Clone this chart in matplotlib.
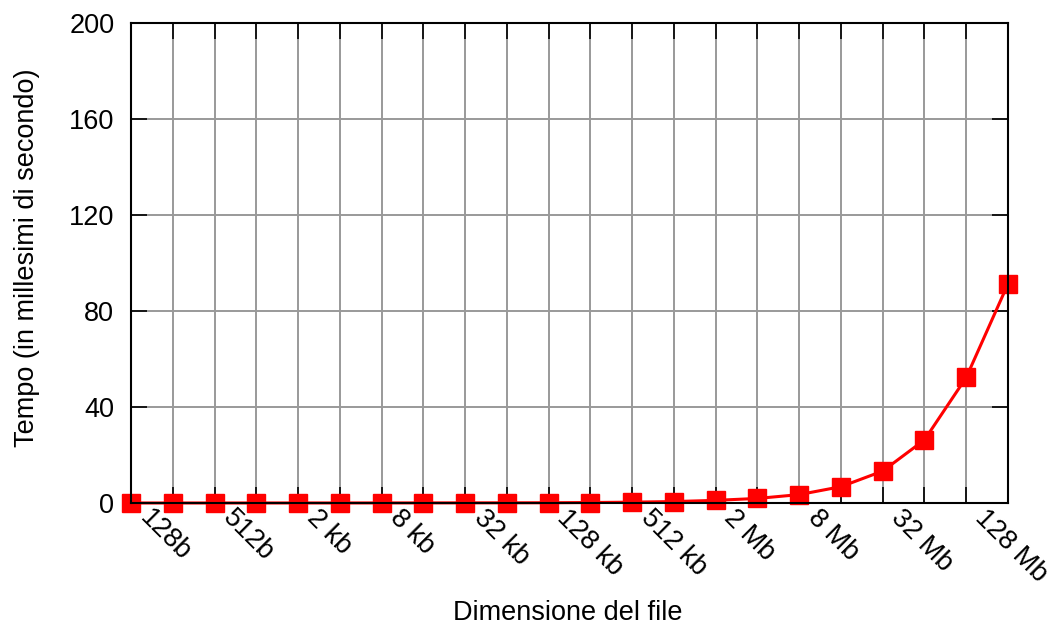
import matplotlib
matplotlib.use("Agg")
import matplotlib.pyplot as plt
import matplotlib.transforms as mtransforms

plt.rcParams['font.family'] = ['Liberation Sans', 'DejaVu Sans']

# file sizes: 128b doubling up to 256 Mb
dimensioni = ['128b', '256b', '512b', '1 kb', '2 kb', '4 kb', '8 kb', '16 kb',
              '32 kb', '64 kb', '128 kb', '256 kb', '512 kb', '1 Mb', '2 Mb',
              '4 Mb', '8 Mb', '16 Mb', '32 Mb', '64 Mb', '128 Mb', '256 Mb']
tempo = [0.01, 0.01, 0.01, 0.01, 0.02, 0.02, 0.03, 0.04, 0.06, 0.08, 0.1,
         0.2, 0.35, 0.6, 1.1, 1.9, 3.5, 6.8, 13.3, 26.3, 52.3, 91.3]
y_ticks = [0, 40, 80, 120, 160, 200]

x = list(range(len(dimensioni)))

W, H = 1055, 630
fig = plt.figure(figsize=(W / 100, H / 100), dpi=100)
ax = fig.add_axes([131 / W, 1 - 503 / H, 877 / W, 480 / H])

ax.plot(x, tempo, color='#ff0000', lw=2.2, marker='s', markersize=12.5,
        clip_on=False, zorder=5)

ax.set_xlim(0, len(x) - 1)
ax.set_ylim(0, 200)
ax.set_xticks(x)
ax.set_xticklabels([])
ax.set_yticks(y_ticks)
ax.set_yticklabels([str(v) for v in y_ticks], fontsize=19.5)

# rotated size labels on every other tick, gnuplot style
lab_trans = ax.get_xaxis_transform() + mtransforms.ScaledTranslation(
    12.5 / 100, -11.5 / 100, fig.dpi_scale_trans)
for i in x[::2]:
    ax.text(i, 0, dimensioni[i], transform=lab_trans, rotation=-45,
            rotation_mode='anchor', ha='left', va='center', fontsize=19.5,
            clip_on=False)

ax.grid(True, color='#999999', lw=1.4)
ax.set_axisbelow(True)
ax.tick_params(direction='in', length=11.5, width=1.2, top=True, right=True,
               colors='black')
ax.tick_params(axis='y', pad=12)
for s in ax.spines.values():
    s.set_linewidth(1.5)
    s.set_zorder(6)

ax.set_xlabel('Dimensione del file', fontsize=19.5, va='center')
ax.xaxis.set_label_coords(568 / W, 1 - 613 / H, transform=fig.transFigure)
ax.set_ylabel('Tempo (in millesimi di secondo)', fontsize=19.5, va='center')
ax.yaxis.set_label_coords(27 / W, 1 - 258 / H, transform=fig.transFigure)

fig.savefig('out.png', dpi=100)
